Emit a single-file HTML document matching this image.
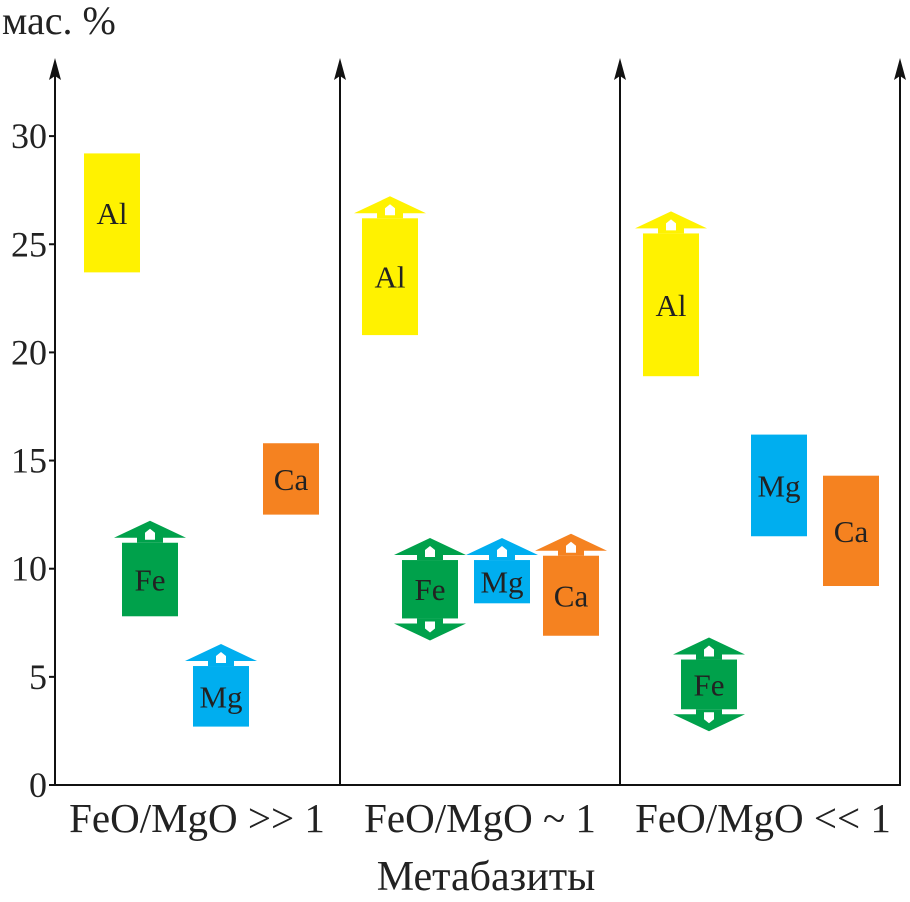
<!DOCTYPE html>
<html><head><meta charset="utf-8"><style>
html,body{margin:0;padding:0;background:#fff;}
svg{display:block;font-family:"Liberation Serif",serif;}
</style></head><body>
<svg id="c" width="910" height="902" xmlns="http://www.w3.org/2000/svg">
<text x="2" y="34" font-size="40" fill="#222">мас. %</text>
<text x="486" y="890" font-size="42" fill="#222" text-anchor="middle">Метабазиты</text>
</svg>
<script>
const ticks=[0,5,10,15,20,25,30];
const groups=["FeO/MgO >> 1","FeO/MgO ~ 1","FeO/MgO << 1"];
const elements=["Al","Fe","Mg","Ca"];
const lows=[[23.7,7.8,2.7,12.5],[20.8,7.7,8.4,6.9],[18.9,3.5,11.5,9.2]];
const highs=[[29.2,11.2,5.5,15.8],[26.2,10.4,10.4,10.6],[25.5,5.8,16.2,14.3]];
const arrowUp=[[false,true,true,false],[true,true,true,true],[true,true,false,false]];
const arrowDown=[[false,false,false,false],[false,true,false,false],[false,true,false,false]];
const boxX=[[84,122,193,263],[362,402,474,543],[643,681,751,823]];
const colors={Al:"#fff200",Fe:"#00a14b",Mg:"#00aeef",Ca:"#f58220"};
const NS="http://www.w3.org/2000/svg";
const svg=document.getElementById('c');
const y=v=>785-v*21.63;
function el(t,a,p){const e=document.createElementNS(NS,t);for(const k in a)e.setAttribute(k,a[k]);(p||svg).appendChild(e);return e;}
function vaxis(x,name){
 const g=el('g',{});
 
 
 el('line',{x1:x,y1:785,x2:x,y2:70,stroke:'#111','stroke-width':2},g);
 el('polygon',{points:`${x-6},80 ${x},58 ${x+6},80 ${x},76`,fill:'#111'},g);
}
vaxis(55,'y-axis');
let xa=el('line',{x1:54,y1:785,x2:901,y2:785,stroke:'#111','stroke-width':2});


[340,620,900].forEach((x,i)=>vaxis(x,'panel-divider-'+(i+1)));
ticks.forEach(t=>{
 const tk=el('line',{x1:49,y1:y(t),x2:55,y2:y(t),stroke:'#111','stroke-width':2});
 
 
 const tx=el('text',{x:47,y:y(t)+12,'font-size':36,'text-anchor':'end',fill:'#222'});
 tx.textContent=t;
 
 
});
const gx=[197,480,763];
groups.forEach((g,i)=>{
 const tx=el('text',{x:gx[i],y:832,'font-size':41,'text-anchor':'middle',fill:'#222'});
 tx.textContent=g;
 
 
});
function head(x,yb,dir,col,g){
 const base=yb+dir*5, peak=yb+dir*22;
 el('polygon',{points:`${x-8},${base} ${x+28},${peak} ${x+64},${base} ${x+41},${base} ${x+41},${yb} ${x+15},${yb} ${x+15},${base}`,fill:col},g);
 const h=yb+dir*3, t=yb+dir*10, r=yb+dir*14;
 el('polygon',{points:`${x+23},${h} ${x+23},${t} ${x+28},${r} ${x+33},${t} ${x+33},${h}`,fill:'#fff'},g);
}
groups.forEach((g,i)=>{
 elements.forEach((e,j)=>{
  const x=boxX[i][j], top=y(highs[i][j]), bot=y(lows[i][j]), col=colors[e];
  const grp=el('g',{});
  
  
  el('rect',{x:x,y:top,width:56,height:bot-top,fill:col},grp);
  if(arrowUp[i][j]) head(x,top,-1,col,grp);
  if(arrowDown[i][j]) head(x,bot,1,col,grp);
  const tx=el('text',{x:x+28,y:(top+bot)/2+11,'font-size':31,'text-anchor':'middle',fill:'#222'},grp);
  tx.textContent=e;
 });
});
</script>
</body></html>
